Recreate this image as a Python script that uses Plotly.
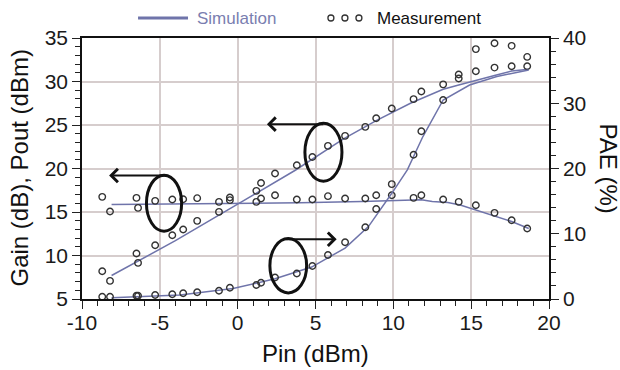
import plotly.graph_objects as go

# ---------------- data ----------------
pin_meas = [-8.7, -8.2, -6.5, -6.4, -5.3, -4.2, -3.5, -2.6, -1.2, -0.5, 1.2, 1.5, 2.4, 3.8,
            4.8, 5.8, 6.9, 8.2, 8.9, 9.9, 11.3, 11.8, 13.2, 14.2, 15.3, 16.5, 17.6, 18.6]
gain_meas = [16.74, 15.06, 16.62, 15.47, 16.28, 16.44, 16.47, 16.59, 16.16, 16.67, 16.16, 16.55,
             16.93, 16.44, 16.44, 16.82, 16.55, 16.55, 16.93, 16.93, 16.62, 16.93, 16.44, 16.16,
             15.78, 14.90, 14.06, 13.10]
pout_meas = [8.19, 7.08, 10.23, 9.15, 11.18, 12.33, 12.99, 13.98, 15.01, 16.36, 17.43, 18.34,
             19.43, 20.38, 21.33, 22.6, 23.75, 24.78, 25.78, 26.9, 27.97, 28.85, 29.67, 30.8,
             31.18, 31.6, 31.76, 31.76]
pae_meas = [0.35, 0.35, 0.5, 0.5, 0.61, 0.72, 0.87, 1.03, 1.27, 1.73, 2.15, 2.5, 3.3, 3.9,
            5.06, 6.74, 8.69, 11.0, 13.8, 17.6, 22.1, 25.7, 30.5, 33.8, 38.3, 39.2, 38.8, 37.1]

pin_gain_sim = [-8.1, -4, 0, 4, 8, 10, 11.8, 12.5, 13.5, 14.3, 15.3, 16.5, 17.6, 18.7]
gain_sim = [15.86, 15.9, 16.0, 16.05, 16.2, 16.35, 16.4, 16.2, 16.1, 15.8, 15.2, 14.5, 13.9, 13.1]

pin_pout_sim = [-8.1, -4, 0, 3.7, 6.8, 8.9, 11.1, 13.2, 14.2, 15.3, 16.5, 17.6, 18.7]
pout_sim = [7.7, 11.7, 15.9, 19.8, 23.4, 25.5, 27.5, 29.1, 29.6, 30.15, 30.7, 31.2, 31.4]

pin_pae_sim = [-8.1, -6.9, -3.7, -0.3, 2.4, 4.75, 6.9, 8.4, 9.9, 10.9, 11.9, 13.2, 14.9, 16.65, 18.7]
pae_sim = [0.2, 0.3, 0.6, 1.6, 3.1, 4.9, 7.8, 11.1, 16.2, 19.8, 24.9, 30.5, 32.8, 34.1, 35.1]

x_ticks = [-10, -5, 0, 5, 10, 15, 20]
x_ticklabels = ["-10", "-5", "0", "5", "10", "15", "20"]
y_ticks = [5, 10, 15, 20, 25, 30, 35]
y2_ticks = [0, 10, 20, 30, 40]

SIM_COLOR = "#6f74aa"
MEAS_COLOR = "#333333"
GRID = "#d6cdcd"
FONT = "Arial, Liberation Sans, sans-serif"

fig = go.Figure()

for xs, ys, ax in [(pin_gain_sim, gain_sim, "y"), (pin_pout_sim, pout_sim, "y"), (pin_pae_sim, pae_sim, "y2")]:
    fig.add_trace(go.Scatter(x=xs, y=ys, yaxis=ax, mode="lines",
                             line=dict(color=SIM_COLOR, width=1.5), showlegend=False))

for ys, ax in [(gain_meas, "y"), (pout_meas, "y"), (pae_meas, "y2")]:
    fig.add_trace(go.Scatter(x=pin_meas, y=ys, yaxis=ax, mode="markers",
                             marker=dict(symbol="circle-open", size=6.5, color=MEAS_COLOR,
                                         line=dict(color=MEAS_COLOR, width=1.4)),
                             showlegend=False))

tickfont = dict(family=FONT, size=21, color="#1a1a1a")

fig.update_layout(
    width=620, height=370,
    margin=dict(l=82, r=71, t=38, b=71),
    paper_bgcolor="white", plot_bgcolor="white",
    showlegend=False,
    xaxis=dict(range=[-10, 20], tickvals=x_ticks, ticktext=x_ticklabels, ticks="outside",
               ticklen=8, tickwidth=1.3, ticklabelstandoff=-4,
               tickcolor="#222", showline=True, linecolor="#111", linewidth=1.5, mirror=True,
               showgrid=True, gridcolor=GRID, gridwidth=1.5, zeroline=False, tickfont=tickfont,
               minor=dict(dtick=1, ticks="outside", ticklen=5, tickwidth=1.2, tickcolor="#222",
                          showgrid=False)),
    yaxis=dict(range=[5, 35], tickvals=y_ticks, ticks="outside", ticklen=8, tickwidth=1.3,
               tickcolor="#222", showline=True, linecolor="#111", linewidth=1.5,
               showgrid=True, gridcolor=GRID, gridwidth=1.5, zeroline=False, tickfont=tickfont,
               minor=dict(dtick=1, ticks="outside", ticklen=5, tickwidth=1.2, tickcolor="#222",
                          showgrid=False)),
    yaxis2=dict(range=[0, 40], tickvals=y2_ticks, overlaying="y", side="right",
                ticks="outside", ticklen=8, tickwidth=1.3, tickcolor="#222",
                showline=True, linecolor="#111", linewidth=1.5, showgrid=False, zeroline=False,
                tickfont=tickfont,
                minor=dict(dtick=2, ticks="outside", ticklen=5, tickwidth=1.2, tickcolor="#222",
                           showgrid=False)),
)

titlefont = dict(family=FONT, size=24, color="#111")
annotations = [
    dict(text="Pin (dBm)", xref="paper", yref="paper", x=0.5, y=0, yshift=-54,
         showarrow=False, font=titlefont, xanchor="center", yanchor="middle"),
    dict(text="Gain (dB), Pout (dBm)", xref="paper", yref="paper", x=0, xshift=-63, y=0.5,
         showarrow=False, font=titlefont, textangle=-90, xanchor="center", yanchor="middle"),
    dict(text="PAE (%)", xref="paper", yref="paper", x=1, xshift=59, y=0.5,
         showarrow=False, font=titlefont, textangle=90, xanchor="center", yanchor="middle"),
    # legend texts
    dict(text="Simulation", xref="paper", yref="paper", x=0.242, y=1.0766, showarrow=False,
         xanchor="left", yanchor="middle", font=dict(family=FONT, size=17, color="#7a7eb0")),
    dict(text="Measurement", xref="paper", yref="paper", x=0.628, y=1.0766, showarrow=False,
         xanchor="left", yanchor="middle", font=dict(family=FONT, size=17, color="#111")),
]

# arrows (tail -> head) in data coordinates of the left axis
arrows = [((5.6, 25.1), (1.88, 25.1)), ((-4.47, 19.2), (-8.26, 19.2)), ((3.04, 11.87), (6.36, 11.87))]
for (tx, ty), (hx, hy) in arrows:
    annotations.append(dict(x=hx, y=hy, ax=tx, ay=ty, xref="x", yref="y", axref="x", ayref="y",
                            showarrow=True, arrowhead=4, arrowsize=1.3, arrowwidth=2,
                            arrowcolor="#111", text=""))
fig.update_layout(annotations=annotations)

shapes = []
ellipses = [(4.32, 6.70, 18.54, 25.2), (-5.86, -3.60, 12.79, 19.23), (2.07, 4.43, 5.70, 11.95)]
for x0, x1, y0, y1 in ellipses:
    shapes.append(dict(type="circle", xref="x", yref="y", x0=x0, x1=x1, y0=y0, y1=y1,
                       line=dict(color="#111", width=3), layer="above"))
# legend line
shapes.append(dict(type="line", xref="paper", yref="paper", x0=0.120, x1=0.227, y0=1.0766,
                   y1=1.0766, line=dict(color=SIM_COLOR, width=3)))
for cx in [0.533, 0.563, 0.593]:
    shapes.append(dict(type="circle", xref="paper", yref="paper", xsizemode="pixel",
                       ysizemode="pixel", xanchor=cx, yanchor=1.0766, x0=-3, x1=3, y0=-3, y1=3,
                       line=dict(color=MEAS_COLOR, width=1.3)))
fig.update_layout(shapes=shapes)

fig.write_html("out.html", config={"displayModeBar": False},
               post_script="document.body.style.margin='0px';")
